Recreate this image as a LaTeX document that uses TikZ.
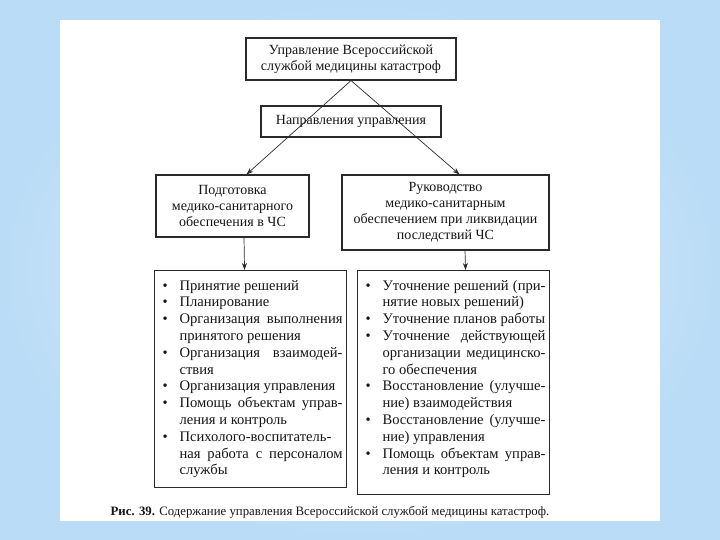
\documentclass[tikz,border=0pt]{standalone}
\usepackage{fontspec}
\setmainfont{Liberation Serif}
\usetikzlibrary{positioning,arrows.meta}
\definecolor{inkc}{HTML}{161616}
\definecolor{linec}{HTML}{2A2A2A}
\definecolor{skyc}{HTML}{BADCF6}
\definecolor{skylc}{HTML}{E0EFFB}
% bullet hanging to the left of a line
\newcommand{\bl}{\llap{\makebox[17pt][l]{\textbullet}}}
% a justified line (spaces stretched to the full width)
\newcommand{\jl}[1]{\makebox[163pt][s]{#1}}
% body of a list box: fixed height, lines from the top
\newcommand{\lbody}[2]{\parbox[t][#1][t]{192pt}{\vspace*{9.5pt}%
  \leftskip=25pt\rightskip=0pt plus 1fil\parfillskip=0pt plus 1fil\noindent#2\par}}
\tikzset{
  box/.style ={draw=linec,line width=1.1pt,fill=white,text=inkc,align=center,
               inner sep=0pt,font=\fontsize{14}{16}\selectfont},
  lst/.style ={draw=linec,line width=1.1pt,fill=white,text=inkc,inner sep=0pt,
               anchor=north west,font=\fontsize{14.6}{16.8}\selectfont},
  capt/.style={text=inkc,font=\fontsize{12.8}{14}\selectfont},
  ar/.style  ={-{Stealth[length=7pt,width=5pt]},draw=linec,line width=.7pt},
}

\begin{document}
\begin{tikzpicture}[x=1pt,y=-1pt]
\useasboundingbox (0,0) rectangle (720,540);
\shade[inner color=skylc,outer color=skyc] (0,0) rectangle (720,540);
\fill[white] (60,20) rectangle (660,521);

% ---- top of the tree -----------------------------------------------------
\node[box,minimum width=210pt,minimum height=42pt] (upr) at (351,59)
  {Управление Всероссийской\\службой медицины катастроф};
\node[box,minimum width=180pt,minimum height=31pt] (napr) at (351,121.5)
  {Направления управления};

% ---- the two directions --------------------------------------------------
\node[box,minimum width=153pt,minimum height=62pt] (podg) at (232.5,206)
  {Подготовка\\медико-санитарного\\обеспечения в ЧС};
\node[box,minimum width=207pt,minimum height=75pt] (ruk) at (445.5,212.5)
  {Руководство\\медико-санитарным\\обеспечением при ликвидации\\последствий ЧС};

\draw[ar] (upr.south) -- ([xshift=14pt]podg.north);
\draw[ar] (upr.south) -- ([xshift=14pt]ruk.north);

% ---- contents of each direction ------------------------------------------
\node[lst] (lstL) at (154,270) {\lbody{217pt}{%
  \bl Принятие решений\\
  \bl Планирование\\
  \bl\jl{Организация выполнения}\\
  принятого решения\\
  \bl\jl{Организация взаимодей-}\\
  ствия\\
  \bl Организация управления\\
  \bl\jl{Помощь объектам управ-}\\
  ления и контроль\\
  \bl\jl{Психолого-воспитатель-}\\
  \jl{ная работа с персоналом}\\
  службы}};
\node[lst] (lstR) at (357,270) {\lbody{224pt}{%
  \bl\jl{Уточнение решений (при-}\\
  нятие новых решений)\\
  \bl Уточнение планов работы\\
  \bl\jl{Уточнение действующей}\\
  \jl{организации медицинско-}\\
  го обеспечения\\
  \bl\jl{Восстановление (улучше-}\\
  ние) взаимодействия\\
  \bl\jl{Восстановление (улучше-}\\
  ние) управления\\
  \bl\jl{Помощь объектам управ-}\\
  ления и контроль}};

\draw[ar] ([xshift=11.5pt]podg.south) -- ([xshift=-6pt]lstL.north);
\draw[ar] ([xshift=19.5pt]ruk.south) -- ([xshift=12pt]lstR.north);

\node[capt] (cap) at (330,512)
  {\textbf{Рис. 39.} Содержание управления Всероссийской службой медицины катастроф.};
\end{tikzpicture}
\end{document}
